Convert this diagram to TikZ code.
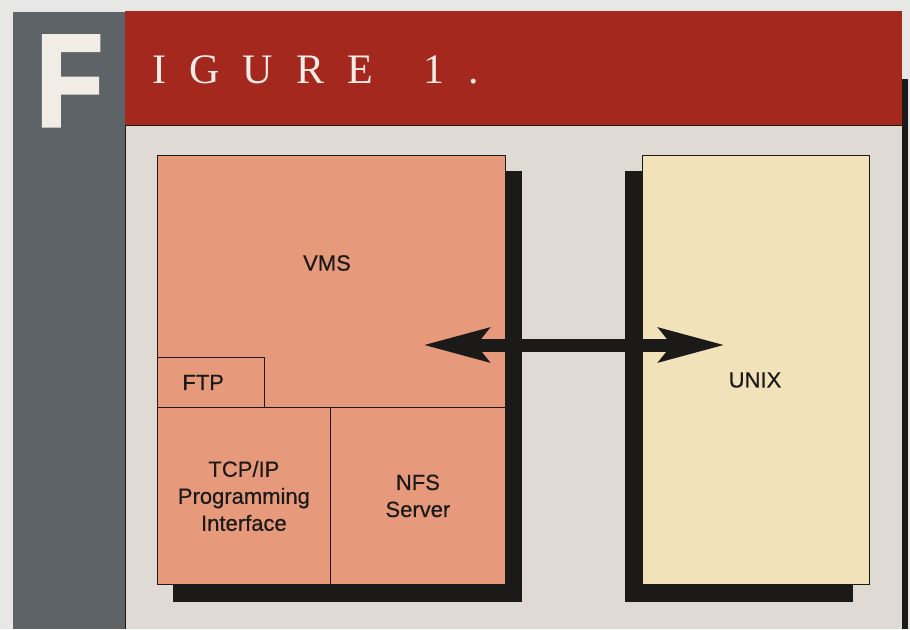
\documentclass[tikz,border=0pt]{standalone}
\usepackage{fontspec}
\setsansfont[FakeBold=0.5]{Liberation Sans}
\newfontfamily\titlefont[LetterSpace=55]{Liberation Serif}
\newfontfamily\capfont[FakeStretch=0.83,FakeBold=2.5]{Liberation Sans Bold}
\usetikzlibrary{arrows.meta,calc}
\definecolor{pagegray}{HTML}{E7E7E5}
\definecolor{bandgray}{HTML}{5E6367}
\definecolor{figred}{HTML}{A4281D}
\definecolor{panelbeige}{HTML}{DFDBD4}
\definecolor{vmsfill}{HTML}{E79A7B}
\definecolor{unixfill}{HTML}{F2E2B9}
\definecolor{inkblack}{HTML}{1B1A19}
\definecolor{titlewhite}{HTML}{F1ECE6}
\begin{document}
\begin{tikzpicture}[x=1pt,y=-1pt,
		box/.style={draw=inkblack, line width=0.8pt, inner sep=0pt, anchor=north west},
		tag/.style={text=inkblack, align=center, font=\sffamily\fontsize{22pt}{27pt}\selectfont},
		shadowfill/.style={fill=inkblack},
		link/.style={draw=inkblack, line width=13pt, {Stealth[length=65pt,width=33pt,inset=12pt]}-{Stealth[length=65pt,width=33pt,inset=12pt]}}]
	\useasboundingbox (0,0) rectangle (910,629);
	\fill[pagegray] (0,0) rectangle (910,629);
	\fill[bandgray] (13,12) rectangle (125,629);
	\fill[figred] (125,11) rectangle (902,125);
	\fill[inkblack] (902,79) rectangle (908,629);
	\fill[panelbeige] (125,125) rectangle (902,629);
	\draw[inkblack, line width=0.8pt] (125,629) -- (125,125) -- (902,125);
	
	\node[anchor=base west, inner sep=0pt, text=titlewhite, font=\capfont\fontsize{131pt}{131pt}\selectfont] (bigf) at (36,126) {F};
	\node[anchor=base west, inner sep=0pt, text=titlewhite, font=\titlefont\fontsize{42pt}{42pt}\selectfont] (title) at (152,83.5) {IGURE\hspace{17pt} 1\hspace{24pt}.};
	
	\node[box, fill=vmsfill, minimum width=348pt, minimum height=429pt] (vms) at (157,155) {};
	\node[box, fill=unixfill, minimum width=227pt, minimum height=429pt] (unix) at (641.5,155) {};
	\fill[shadowfill] ($(vms.north east)+(0,16)$) rectangle ($(vms.south east)+(16,17)$);
	\fill[shadowfill] ($(vms.south west)+(16,0)$) rectangle ($(vms.south east)+(16,17)$);
	\fill[shadowfill] ($(unix.north west)+(-17,16)$) rectangle ($(unix.south west)+(0,17)$);
	\fill[shadowfill] ($(unix.south west)+(-17,0)$) rectangle ($(unix.south east)+(-16,17)$);
	
	\node[box, tag, minimum height=50pt, text width=57pt, inner xsep=25pt, align=left] (ftp) at (157,357) {FTP};
	\node[box, tag, minimum width=173pt, minimum height=177pt] (tcpip) at (157,407) {TCP/IP\\Programming\\Interface};
	\node[box, tag, minimum width=175pt, minimum height=177pt] (nfs) at (330,407) {NFS\\Server};
	
	\node[tag] (vmslabel) at (327,263) {VMS};
	\node[tag] (unixlabel) at (755,380) {UNIX};
	
	\coordinate (vmsport) at (423,345);
	\coordinate (unixport) at (725,345);
	\draw[link] (vmsport) -- (unixport);
\end{tikzpicture}
\end{document}
